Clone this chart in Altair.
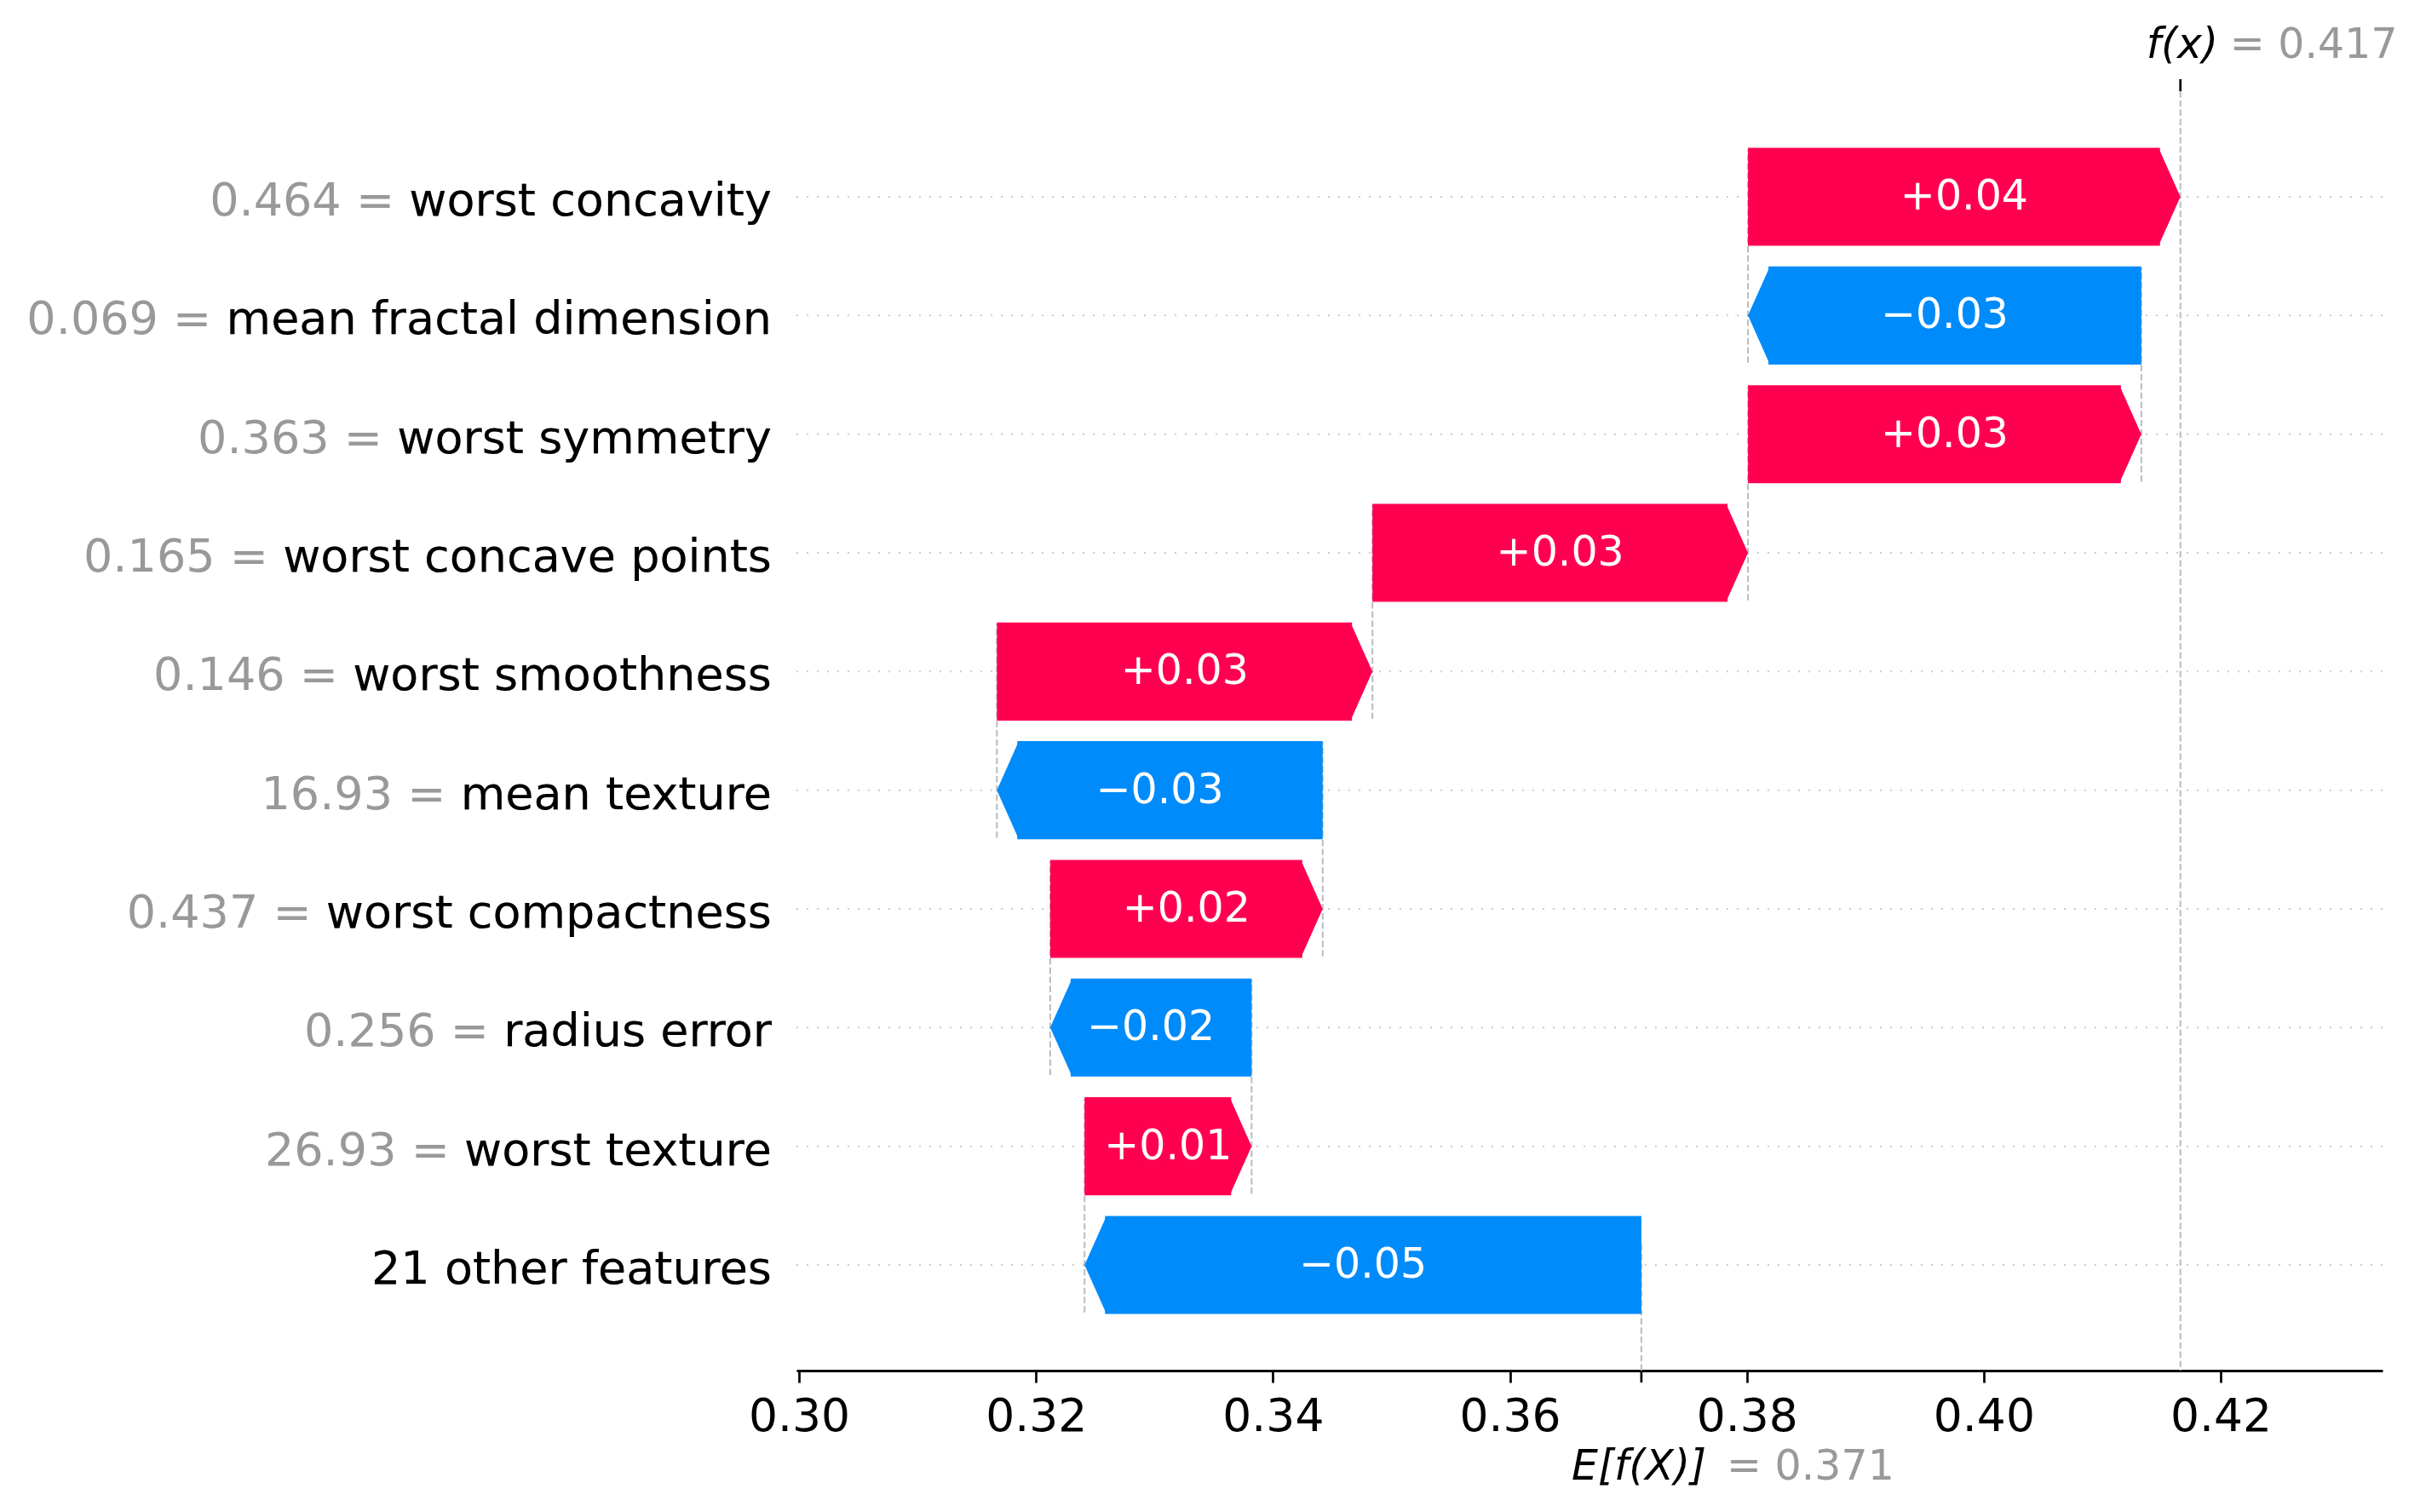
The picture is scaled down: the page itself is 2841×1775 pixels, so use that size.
import altair as alt
import pandas as pd

# ---------------- data ----------------
feature_names = [
    "worst concavity", "mean fractal dimension", "worst symmetry",
    "worst concave points", "worst smoothness", "mean texture",
    "worst compactness", "radius error", "worst texture", "21 other features",
]
feature_values = ["0.464", "0.069", "0.363", "0.165", "0.146", "16.93",
                  "0.437", "0.256", "26.93", ""]
shap_values = [0.0365, -0.0332, 0.0332, 0.0317, 0.0317, -0.0275,
               0.0230, -0.0170, 0.0141, -0.0470]
base_value = 0.3711
x_ticks = [0.30, 0.32, 0.34, 0.36, 0.38, 0.40, 0.42]

# ---------------- style / layout ----------------
RED = "#ff0051"
BLUE = "#008bfb"
GRAY = "#999999"
FONT = "DejaVu Sans"
W, H = 1862, 1502
X_DOMAIN = [0.29978, 0.43366]
Y_DOMAIN = [-0.89, 9.89]
HALF = 0.413                      # half bar height, in row units
PX_PER_UNIT = W / (X_DOMAIN[1] - X_DOMAIN[0])
TIP_PX = 24
TIP = TIP_PX / PX_PER_UNIT        # arrow head length in data units
BAR_PX = 2 * HALF * H / (Y_DOMAIN[1] - Y_DOMAIN[0])
HW = TIP_PX / (BAR_PX / 2)        # head width in normalized symbol units
HEAD_POS = f"M-0.03,-1L{HW:.4f},0L-0.03,1Z"
HEAD_NEG = f"M0.03,-1L{-HW:.4f},0L0.03,1Z"

n = len(shap_values)
fx = base_value + sum(shap_values)

rects, heads, bar_txt, labels, dashes = [], [], [], [], []
for i in range(n):
    r = n - 1 - i
    v = shap_values[i]
    start = base_value + sum(shap_values[i + 1:])
    end = start + v
    sign = "pos" if v >= 0 else "neg"
    if v >= 0:
        left, right, hx = start, end - TIP, end - TIP
    else:
        left, right, hx = end + TIP, start, end + TIP
    rects.append({"row": r, "y1": r - HALF, "y2": r + HALF, "left": left, "right": right, "sign": sign})
    heads.append({"row": r, "hx": hx, "sign": sign})
    bar_txt.append({"row": r, "mid": (start + end) / 2,
                    "txt": f"{v:+.2f}".replace("-", "\u2212")})
    full = f"{feature_values[i]} = {feature_names[i]}" if feature_values[i] else feature_names[i]
    labels.append({"row": r, "full": full, "name": feature_names[i]})
    if i < n - 1:
        dashes.append({"x": start, "y1": r - 1 - 0.4, "y2": r + 0.4})

rect_df = pd.DataFrame(rects)
head_df = pd.DataFrame(heads)
txt_df = pd.DataFrame(bar_txt)
lab_df = pd.DataFrame(labels)
dash_df = pd.DataFrame(dashes)
ann_df = pd.DataFrame([{"fx": fx, "base": base_value,
                        "fx_txt": f"= {fx:.3f}", "base_txt": f"= {base_value:.3f}"}])

xscale = alt.Scale(domain=X_DOMAIN, nice=False, zero=False)
yscale = alt.Scale(domain=Y_DOMAIN, nice=False, zero=False)
cscale = alt.Scale(domain=["pos", "neg"], range=[RED, BLUE])
xaxis = alt.Axis(values=x_ticks, format=".2f", title=None, grid=False,
                 labelFont=FONT, labelFontSize=53.5, labelColor="black",
                 labelPadding=14, tickSize=14, tickWidth=2.7, tickColor="black",
                 domainColor="black", domainWidth=3, labelFlush=False, labelOverlap=False)


def X(field):
    return alt.X(field, scale=xscale, axis=xaxis)


def Y(field):
    return alt.Y(field, scale=yscale, axis=None)


dash_style = dict(color="#bbbbbb", strokeWidth=2, strokeDash=[7.5, 3.3])

# horizontal dotted row lines
row_lines = alt.Chart(lab_df).mark_rule(color="#cccccc", strokeWidth=2, strokeDash=[2, 10]).encode(
    y=Y("row:Q"), x=alt.value(0), x2=alt.value(W))

# dashed connectors
dash_lines = alt.Chart(dash_df).mark_rule(**dash_style).encode(
    x=X("x:Q"), y=Y("y1:Q"), y2="y2:Q")
fx_line = alt.Chart(ann_df).mark_rule(**dash_style).encode(
    x=X("fx:Q"), y=alt.value(0), y2=alt.value(H))
base_line = alt.Chart(ann_df).mark_rule(**dash_style).encode(
    x=X("base:Q"), y=alt.value(H), y2=alt.value(H * 0.9))

# arrow bars: body rectangles + heads
bodies = alt.Chart(rect_df).mark_rect(opacity=1).encode(
    x=X("left:Q"), x2="right:Q", y=Y("y1:Q"), y2="y2:Q",
    color=alt.Color("sign:N", scale=cscale, legend=None))
heads_pos = alt.Chart(head_df).transform_filter(alt.datum.sign == "pos").mark_point(
    shape=HEAD_POS, filled=True, opacity=1, size=BAR_PX ** 2, strokeWidth=0).encode(
    x=X("hx:Q"), y=Y("row:Q"), color=alt.Color("sign:N", scale=cscale, legend=None))
heads_neg = alt.Chart(head_df).transform_filter(alt.datum.sign == "neg").mark_point(
    shape=HEAD_NEG, filled=True, opacity=1, size=BAR_PX ** 2, strokeWidth=0).encode(
    x=X("hx:Q"), y=Y("row:Q"), color=alt.Color("sign:N", scale=cscale, legend=None))

bar_text = alt.Chart(txt_df).mark_text(font=FONT, fontSize=49, color="white",
                                       align="center", baseline="alphabetic", dy=15).encode(
    x=X("mid:Q"), y=Y("row:Q"), text="txt:N")

# y labels: full label in gray, name overlaid in black (as shap does)
lab_gray = alt.Chart(lab_df).mark_text(font=FONT, fontSize=54, color=GRAY, align="right",
                                       baseline="alphabetic", dy=22).encode(
    x=alt.value(-29), y=Y("row:Q"), text="full:N")
lab_black = alt.Chart(lab_df).mark_text(font=FONT, fontSize=54, color="black", align="right",
                                        baseline="alphabetic", dy=22).encode(
    x=alt.value(-29), y=Y("row:Q"), text="name:N")

# extra ticks
fx_tick = alt.Chart(ann_df).mark_rule(color="black", strokeWidth=2.7).encode(
    x=X("fx:Q"), y=alt.value(0), y2=alt.value(-14))
base_tick = alt.Chart(ann_df).mark_rule(color="black", strokeWidth=2.7).encode(
    x=X("base:Q"), y=alt.value(H), y2=alt.value(H + 14))

# f(x) and E[f(X)] annotations
fx_lab = alt.Chart(ann_df).mark_text(font=FONT, fontSize=49, fontStyle="italic", color="black",
                                     align="left", baseline="alphabetic", dx=-40).encode(
    x=X("fx:Q"), y=alt.value(-39), text=alt.value("f(x)"))
fx_val = alt.Chart(ann_df).mark_text(font=FONT, fontSize=49, color=GRAY,
                                     align="left", baseline="alphabetic", dx=58).encode(
    x=X("fx:Q"), y=alt.value(-39), text="fx_txt:N")
base_lab = alt.Chart(ann_df).mark_text(font=FONT, fontSize=49, fontStyle="italic", color="black",
                                       align="left", baseline="alphabetic", dx=-82).encode(
    x=X("base:Q"), y=alt.value(H + 128), text=alt.value("E[f(X)]"))
base_val = alt.Chart(ann_df).mark_text(font=FONT, fontSize=49, color=GRAY,
                                       align="left", baseline="alphabetic", dx=100).encode(
    x=X("base:Q"), y=alt.value(H + 128), text="base_txt:N")

chart = alt.layer(
    row_lines, dash_lines, fx_line, base_line, bodies, heads_pos, heads_neg, bar_text,
    lab_gray, lab_black, fx_tick, base_tick, fx_lab, fx_val, base_lab, base_val,
).properties(
    width=W, height=H,
    autosize=alt.AutoSizeParams(type="none"),
    padding={"left": 927, "top": 99, "right": 36, "bottom": 158},
).configure_view(stroke=None)

chart.save("out.html", embed_options={"renderer": "svg", "actions": False})
